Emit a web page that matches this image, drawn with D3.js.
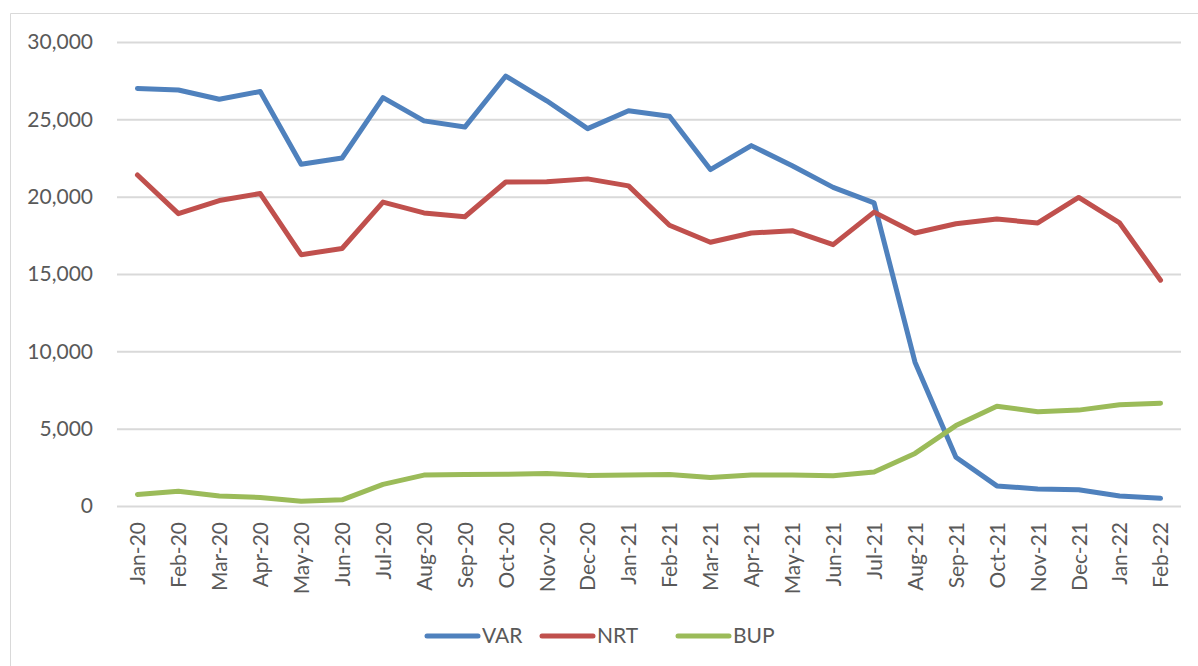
<!DOCTYPE html>
<html>
<head>
<meta charset="utf-8">
<script src="https://cdn.jsdelivr.net/npm/d3@7"></script>
<style>
  body { margin: 0; background: #fff; }
  text { font-family: Lato, "Open Sans", sans-serif; fill: #595959; }
</style>
</head>
<body>
<div id="chart"></div>
<script>
// data
const months = ['Jan-20','Feb-20','Mar-20','Apr-20','May-20','Jun-20','Jul-20','Aug-20','Sep-20','Oct-20','Nov-20','Dec-20',
  'Jan-21','Feb-21','Mar-21','Apr-21','May-21','Jun-21','Jul-21','Aug-21','Sep-21','Oct-21','Nov-21','Dec-21','Jan-22','Feb-22'];

const varValues = [27000, 26900, 26300, 26800, 22100, 22500, 26400, 24900, 24500, 27800, 26200, 24400,
  25550, 25200, 21750, 23300, 22000, 20600, 19600, 9300, 3150, 1300, 1100, 1050, 650, 500];
const nrtValues = [21400, 18900, 19750, 20200, 16250, 16650, 19650, 18950, 18700, 20950, 20970, 21150,
  20700, 18150, 17050, 17650, 17800, 16900, 19000, 17650, 18250, 18550, 18300, 19950, 18300, 14600];
const bupValues = [750, 950, 650, 550, 300, 400, 1400, 2000, 2030, 2050, 2100, 1980,
  2000, 2030, 1850, 2010, 2010, 1950, 2200, 3400, 5200, 6450, 6100, 6200, 6550, 6650];

const seriesNames = ['VAR', 'NRT', 'BUP'];
const seriesColors = ['#4F81BD', '#C0504D', '#9BBB59'];
const yTicks = [0, 5000, 10000, 15000, 20000, 25000, 30000];

const series = [varValues, nrtValues, bupValues].map((vals, i) => ({
  name: seriesNames[i], color: seriesColors[i], values: vals
}));

let width = 1198, height = 666;
let margin = { top: 42, right: 17, bottom: 160, left: 117 };
let plotW = width - margin.left - margin.right;
let plotH = height - margin.top - margin.bottom;

let svg = d3.select('#chart')
  .append('svg')
  .attr('width', width)
  .attr('height', height);

// chart area frame (only top and left visible in the picture)
svg.append('path')
  .attr('d', 'M10.5,' + height + 'V13.5H' + width)
  .attr('fill', 'none')
  .attr('stroke', '#d9d9d9')
  .attr('stroke-width', 1);

let g = svg.append('g')
  .attr('transform', 'translate(' + margin.left + ',' + margin.top + ')');

let x = d3.scalePoint()
  .domain(months)
  .range([0, plotW])
  .padding(0.5);

let y = d3.scaleLinear()
  .domain([0, 30000])
  .range([plotH, 0]);

// gridlines + y labels
let yAxis = d3.axisLeft(y)
  .tickValues(yTicks)
  .tickSize(-plotW)
  .tickPadding(24)
  .tickFormat(d3.format(','));

g.append('g')
  .attr('class', 'y axis')
  .call(yAxis)
  .call(s => s.select('.domain').remove())
  .call(s => s.selectAll('line').attr('stroke', '#d9d9d9').attr('stroke-width', 2))
  .call(s => s.selectAll('text').style('font-size', '21px').attr('fill', '#595959'));

// x axis labels, rotated
let xAxis = d3.axisBottom(x).tickSize(0).tickPadding(0);
g.append('g')
  .attr('class', 'x axis')
  .attr('transform', 'translate(0,' + plotH + ')')
  .call(xAxis)
  .call(s => s.select('.domain').remove())
  .call(s => s.selectAll('text')
    .style('font-size', '21px')
    .attr('fill', '#595959')
    .attr('text-anchor', 'end')
    .attr('dy', '0.35em')
    .attr('dx', 0)
    .attr('y', 0)
    .attr('transform', 'translate(0,16) rotate(-90)'));

let line = d3.line()
  .x((d, i) => x(months[i]))
  .y(d => y(d));

g.selectAll('.series')
  .data(series)
  .enter()
  .append('path')
    .attr('class', 'series')
    .attr('d', d => line(d.values))
    .attr('fill', 'none')
    .attr('stroke', d => d.color)
    .attr('stroke-width', 5)
    .attr('stroke-linejoin', 'round')
    .attr('stroke-linecap', 'round');

// legend
let legendX = [427, 542, 678];
let legend = svg.append('g')
  .attr('transform', 'translate(0,636)');

let items = legend.selectAll('g')
  .data(series)
  .enter()
  .append('g')
    .attr('transform', (d, i) => 'translate(' + legendX[i] + ',0)');

items.append('line')
  .attr('x1', 0).attr('x2', 51)
  .attr('y1', 0).attr('y2', 0)
  .attr('stroke', d => d.color)
  .attr('stroke-width', 5)
  .attr('stroke-linecap', 'round');

items.append('text')
  .attr('x', 55)
  .attr('dy', '0.35em')
  .style('font-size', '21px')
  .text(d => d.name);
</script>
</body>
</html>
